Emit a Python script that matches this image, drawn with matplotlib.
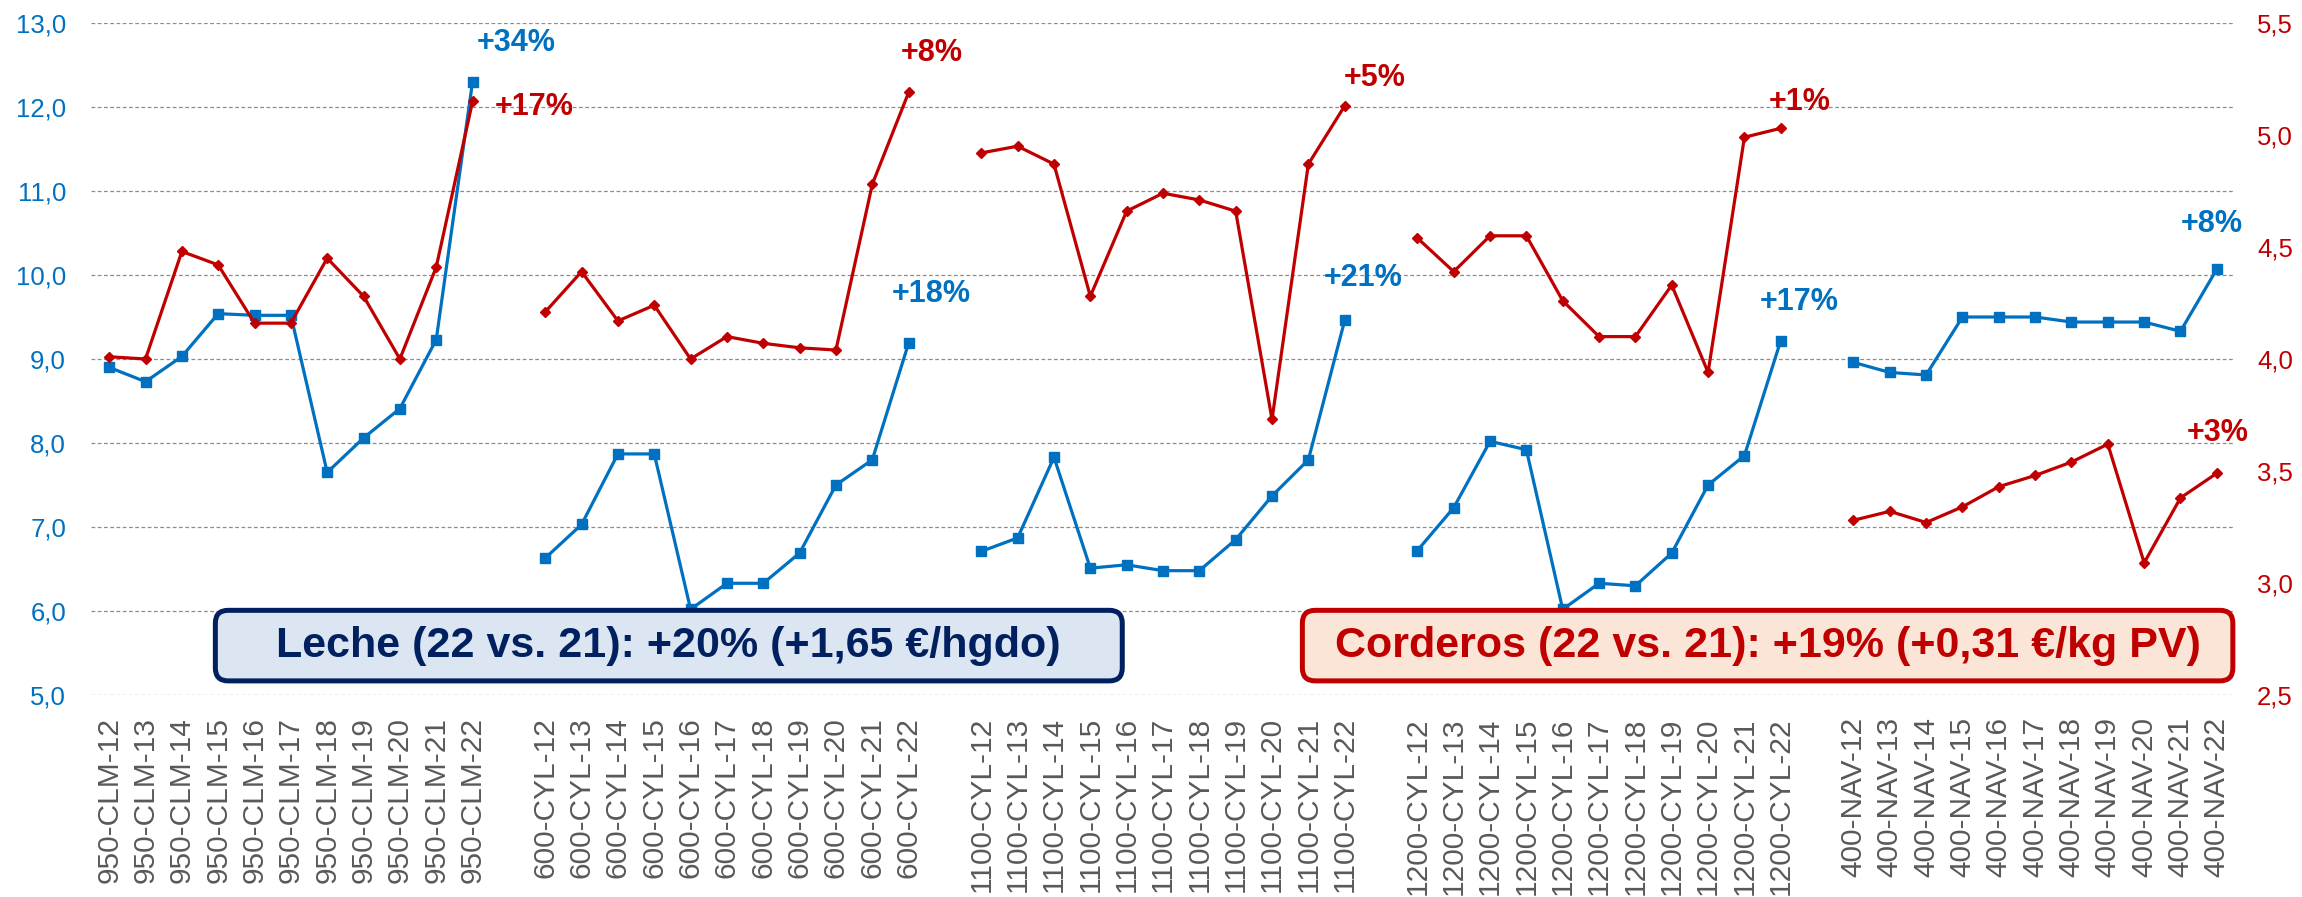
import matplotlib
matplotlib.use('Agg')
import matplotlib.pyplot as plt
import numpy as np
from matplotlib.patches import FancyBboxPatch
from matplotlib.ticker import FuncFormatter

plt.rcParams['font.family'] = ['Liberation Sans', 'DejaVu Sans']

# data
groups = ['950-CLM', '600-CYL', '1100-CYL', '1200-CYL', '400-NAV']
years = list(range(12, 23))

# leche (€/hgdo), left axis
leche_clm = [8.90, 8.73, 9.03, 9.54, 9.52, 9.52, 7.65, 8.06, 8.41, 9.23, 12.30]
leche_cyl600 = [6.63, 7.03, 7.87, 7.87, 6.02, 6.33, 6.33, 6.69, 7.50, 7.80, 9.19]
leche_cyl1100 = [6.71, 6.87, 7.83, 6.51, 6.55, 6.48, 6.48, 6.85, 7.37, 7.80, 9.46]
leche_cyl1200 = [6.72, 7.23, 8.02, 7.92, 6.02, 6.33, 6.30, 6.69, 7.50, 7.85, 9.22]
leche_nav = [8.96, 8.84, 8.81, 9.50, 9.50, 9.50, 9.44, 9.44, 9.44, 9.33, 10.07]

# corderos (€/kg PV), right axis
cord_clm = [4.01, 4.00, 4.48, 4.42, 4.16, 4.16, 4.45, 4.28, 4.00, 4.41, 5.15]
cord_cyl600 = [4.21, 4.39, 4.17, 4.24, 4.00, 4.10, 4.07, 4.05, 4.04, 4.78, 5.19]
cord_cyl1100 = [4.92, 4.95, 4.87, 4.28, 4.66, 4.74, 4.71, 4.66, 3.73, 4.87, 5.13]
cord_cyl1200 = [4.54, 4.39, 4.55, 4.55, 4.26, 4.10, 4.10, 4.33, 3.94, 4.99, 5.03]
cord_nav = [3.28, 3.32, 3.27, 3.34, 3.43, 3.48, 3.54, 3.62, 3.09, 3.38, 3.49]

leche_pct = ['+34%', '+18%', '+21%', '+17%', '+8%']
cord_pct = ['+17%', '+8%', '+5%', '+1%', '+3%']

leche_txt = 'Leche (22 vs. 21): +20% (+1,65 €/hgdo)'
cord_txt = 'Corderos (22 vs. 21): +19% (+0,31 €/kg PV)'

BLUE = '#0070C0'
RED = '#C00000'

leche = [leche_clm, leche_cyl600, leche_cyl1100, leche_cyl1200, leche_nav]
cord = [cord_clm, cord_cyl600, cord_cyl1100, cord_cyl1200, cord_nav]

# one empty slot between groups
labels, blue, red, last_idx = [], [], [], []
for gi, g in enumerate(groups):
    if gi:
        labels.append('')
        blue.append(np.nan)
        red.append(np.nan)
    labels += [f'{g}-{y}' for y in years]
    blue += leche[gi]
    red += cord[gi]
    last_idx.append(len(labels) - 1)
x = np.arange(len(labels))

W, H = 2302, 897
fig = plt.figure(figsize=(W / 100, H / 100), dpi=100)
ax = fig.add_axes([91 / W, 1 - 695 / H, (2235 - 91) / W, (695 - 23) / H])
ax2 = ax.twinx()

ax.plot(x, blue, color=BLUE, lw=2.3, marker='s', ms=7)
ax2.plot(x, red, color=RED, lw=2.3, marker='D', ms=5.5)

ax.set_xlim(-0.5, len(labels) - 0.5)
ax.set_ylim(5, 13)
ax2.set_ylim(2.5, 5.5)
ax.set_yticks(np.arange(5, 13.01, 1))
ax2.set_yticks(np.arange(2.5, 5.51, 0.5))
comma = FuncFormatter(lambda v, p: f'{v:.1f}'.replace('.', ','))
ax.yaxis.set_major_formatter(comma)
ax2.yaxis.set_major_formatter(comma)

ax.grid(axis='y', color='#8c8c8c', linestyle=(0, (3, 2)), lw=0.9)
ax.set_axisbelow(True)
for a in (ax, ax2):
    for s in a.spines.values():
        s.set_visible(False)

ax.tick_params(axis='y', length=0, labelsize=18.5, labelcolor=BLUE, pad=18)
ax2.tick_params(axis='y', length=0, labelsize=18.5, labelcolor=RED, pad=16)
ax.set_xticks(x)
ax.set_xticklabels(labels, rotation=90, fontsize=21.5, color='#595959')
ax.tick_params(axis='x', length=0, pad=16)

# percentage labels
blue_off = [(44, 39), (23, 49), (18, 42), (18, 39), (-5, 45)]
red_off = [(62, -6), (23, 39), (30, 28), (19, 26), (1, 40)]
for gi, i in enumerate(last_idx):
    ax.annotate(leche_pct[gi], xy=(i, blue[i]), xytext=blue_off[gi],
                textcoords='offset pixels', ha='center', va='center',
                fontsize=22, fontweight='bold', color=BLUE)
    ax2.annotate(cord_pct[gi], xy=(i, red[i]), xytext=red_off[gi],
                 textcoords='offset pixels', ha='center', va='center',
                 fontsize=22, fontweight='bold', color=RED)

# summary boxes
def summary_box(x0, x1, text, fc, ec):
    y0, y1 = 0.021, 0.126
    r = 0.006
    box = FancyBboxPatch((x0, y0), x1 - x0, y1 - y0,
                         boxstyle=f'round,pad=0,rounding_size={r}',
                         mutation_aspect=2144 / 672,
                         transform=ax2.transAxes, fc=fc, ec=ec, lw=3.6,
                         clip_on=False, zorder=6)
    ax2.add_patch(box)
    ax2.text((x0 + x1) / 2, (y0 + y1) / 2, text, transform=ax2.transAxes,
             ha='center', va='center', fontsize=31, fontweight='bold',
             color=ec, zorder=7)

summary_box(0.058, 0.481, leche_txt, '#DCE6F2', '#002060')
summary_box(0.565, 0.999, cord_txt, '#FBE5D6', RED)

fig.savefig('out.png', dpi=100, facecolor='white')
